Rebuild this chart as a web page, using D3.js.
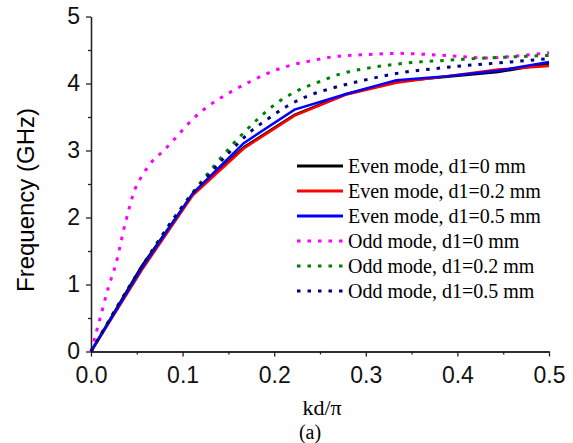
<!DOCTYPE html>
<html>
<head>
<meta charset="utf-8">
<script src="https://cdn.jsdelivr.net/npm/d3@7/dist/d3.min.js"></script>
<style>
  body { margin: 0; background: #fff; }
  .axis text { font-family: Arial, "Liberation Sans", sans-serif; font-size: 23px; fill: #111; }
  .axis path, .axis line { stroke: #222; stroke-width: 1.3; }
</style>
</head>
<body>
<script>
// values
const kEven = [0, 0.0556, 0.1111, 0.1667, 0.2222, 0.2778, 0.3333, 0.3889, 0.4444, 0.5];
const evenD0 = [0, 1.28, 2.35, 3.05, 3.53, 3.84, 4.03, 4.10, 4.17, 4.30];
const evenD02 = [0, 1.22, 2.33, 3.03, 3.52, 3.83, 4.01, 4.11, 4.21, 4.26];
const evenD05 = [0, 1.25, 2.36, 3.11, 3.61, 3.84, 4.05, 4.11, 4.19, 4.32];

const kOddD0 = [0, 0.0098, 0.019, 0.027, 0.037, 0.048, 0.0556, 0.0645, 0.081, 0.097, 0.112, 0.132, 0.152, 0.174, 0.196, 0.22, 0.237, 0.265, 0.30, 0.336, 0.371, 0.407, 0.433, 0.455, 0.5];
const oddD0 = [0, 0.49, 0.96, 1.30, 1.89, 2.42, 2.62, 2.80, 3.02, 3.26, 3.48, 3.70, 3.87, 4.03, 4.17, 4.28, 4.33, 4.40, 4.43, 4.45, 4.43, 4.40, 4.38, 4.40, 4.46];

const kOddD02 = [0, 0.0556, 0.111, 0.132, 0.156, 0.179, 0.203, 0.225, 0.25, 0.274, 0.298, 0.322, 0.356, 0.393, 0.429, 0.466, 0.5];
const oddD02 = [0, 1.26, 2.37, 2.73, 3.11, 3.43, 3.71, 3.89, 4.03, 4.15, 4.22, 4.27, 4.32, 4.35, 4.38, 4.40, 4.42];

const kOddD05 = [0, 0.0556, 0.111, 0.125, 0.148, 0.174, 0.194, 0.214, 0.236, 0.258, 0.292, 0.338, 0.374, 0.411, 0.447, 0.5];
const oddD05 = [0, 1.27, 2.36, 2.58, 2.93, 3.28, 3.48, 3.66, 3.81, 3.91, 4.03, 4.16, 4.22, 4.27, 4.31, 4.37];

const xTicks = [0, 0.1, 0.2, 0.3, 0.4, 0.5];
const xMinor = [0.05, 0.15, 0.25, 0.35, 0.45];
const yTicks = [0, 1, 2, 3, 4, 5];
const yMinor = [0.5, 1.5, 2.5, 3.5, 4.5];

const labels = ["Even mode, d1=0 mm", "Even mode, d1=0.2 mm", "Even mode, d1=0.5 mm",
                "Odd mode, d1=0 mm", "Odd mode, d1=0.2 mm", "Odd mode, d1=0.5 mm"];
const colors = ["#000000", "#ff0000", "#0000ff", "#ff00ff", "#008000", "#000080"];

const W = 573, H = 443;
const svg = d3.select("body").append("svg").attr("width", W).attr("height", H);

const x = d3.scaleLinear().domain([0, 0.5]).range([91, 549]);
const y = d3.scaleLinear().domain([0, 5]).range([351.5, 16.5]);

// axes
svg.append("g").attr("class", "axis").attr("transform", "translate(0," + y(0) + ")")
  .call(d3.axisBottom(x).tickValues(xTicks).tickFormat(d3.format(".1f")).tickSize(5).tickSizeOuter(0).tickPadding(10));
svg.append("g").attr("class", "axis").attr("transform", "translate(0," + y(0) + ")")
  .call(d3.axisBottom(x).tickValues(xMinor).tickFormat("").tickSize(3).tickSizeOuter(0));
svg.append("g").attr("class", "axis").attr("transform", "translate(" + x(0) + ",0)")
  .call(d3.axisLeft(y).tickValues(yTicks).tickFormat(d3.format("d")).tickSize(5).tickSizeOuter(0).tickPadding(6));
svg.append("g").attr("class", "axis").attr("transform", "translate(" + x(0) + ",0)")
  .call(d3.axisLeft(y).tickValues(yMinor).tickFormat("").tickSize(3).tickSizeOuter(0));

// axis titles
svg.append("text").attr("transform", "translate(34,200) rotate(-90)")
  .attr("text-anchor", "middle").style("font-family", "Arial, 'Liberation Sans', sans-serif")
  .style("font-size", "24px").text("Frequency (GHz)");
svg.append("text").attr("x", 322).attr("y", 415).attr("text-anchor", "middle")
  .style("font-family", "'Liberation Serif', 'Times New Roman', serif").style("font-size", "22px").text("kd/π");
svg.append("text").attr("x", 310).attr("y", 439).attr("text-anchor", "middle")
  .style("font-family", "'Liberation Serif', 'Times New Roman', serif").style("font-size", "20px").text("(a)");

// curves
const series = [
  { k: kEven, f: evenD0, dotted: false },
  { k: kEven, f: evenD02, dotted: false },
  { k: kEven, f: evenD05, dotted: false },
  { k: kOddD0, f: oddD0, dotted: true },
  { k: kOddD02, f: oddD02, dotted: true },
  { k: kOddD05, f: oddD05, dotted: true }
];

const lineStraight = d3.line().x(d => x(d[0])).y(d => y(d[1]));
const lineSmooth = d3.line().x(d => x(d[0])).y(d => y(d[1])).curve(d3.curveMonotoneX);

series.forEach((s, i) => {
  const pts = s.k.map((k, j) => [k, s.f[j]]);
  svg.append("path")
    .attr("d", s.dotted ? lineSmooth(pts) : lineStraight(pts))
    .attr("fill", "none")
    .attr("stroke", colors[i])
    .attr("stroke-width", s.dotted ? 3 : 2.5)
    .attr("stroke-dasharray", s.dotted ? "3.5,7" : null);
});

// legend
const leg = svg.append("g");
labels.forEach((lab, i) => {
  const yy = 166 + i * 25;
  leg.append("line").attr("x1", 297).attr("x2", 343).attr("y1", yy).attr("y2", yy)
    .attr("stroke", colors[i]).attr("stroke-width", i < 3 ? 2.8 : 3)
    .attr("stroke-dasharray", i < 3 ? null : "3.5,7");
  leg.append("text").attr("x", 348).attr("y", yy + 6.5)
    .style("font-family", "'Liberation Serif', 'Times New Roman', serif").style("font-size", "20px")
    .text(lab);
});
</script>
</body>
</html>
